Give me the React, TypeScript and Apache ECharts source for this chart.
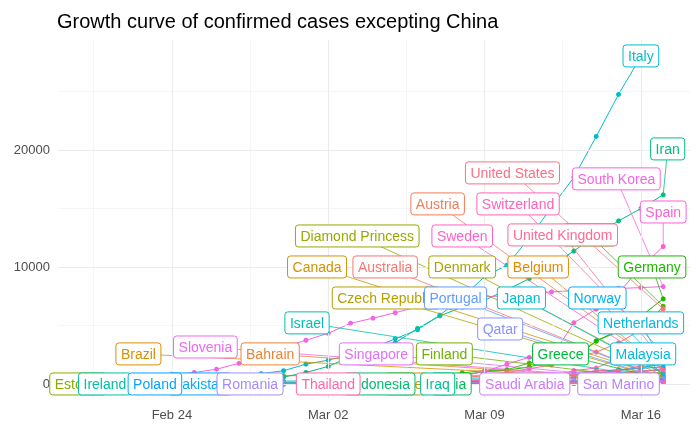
import { useEffect, useRef } from 'react';
import * as echarts from 'echarts';

// x = days after Feb 24, 2020
const countries = ['Australia', 'Austria', 'Bahrain', 'Belgium', 'Brazil', 'Canada', 'Chile', 'Czech Republic', 'Denmark', 'Diamond Princess', 'Estonia', 'Finland', 'France', 'Germany', 'Greece', 'India', 'Indonesia', 'Iran', 'Iraq', 'Ireland', 'Israel', 'Italy', 'Japan', 'Malaysia', 'Netherlands', 'Norway', 'Pakistan', 'Poland', 'Portugal', 'Qatar', 'Romania', 'San Marino', 'Saudi Arabia', 'Singapore', 'Slovenia', 'South Korea', 'Spain', 'Sweden', 'Switzerland', 'Thailand', 'United Kingdom', 'United States'];

const startDay: Record<string, number> = {
  Australia: -4, Austria: 7, Bahrain: 1, Belgium: 6, Brazil: 2, Canada: -4, Chile: 8, 'Czech Republic': 6, Denmark: 6,
  'Diamond Princess': -4, Estonia: 7, Finland: 2, France: 8, Germany: 7, Greece: 2, India: 0, Indonesia: 7, Iran: -5,
  Iraq: 2, Ireland: 6, Israel: 1, Italy: -2, Japan: -4, Malaysia: -4, Netherlands: 6, Norway: 6, Pakistan: 1, Poland: 9,
  Portugal: 7, Qatar: 5, Romania: 2, 'San Marino': 4, 'Saudi Arabia': 7, Singapore: -2, Slovenia: 10, 'South Korea': -4,
  Spain: 6, Sweden: 6, Switzerland: 7, Thailand: -3, 'United Kingdom': 6, 'United States': 7,
};

const cases: Record<string, number[]> = {
  Australia: [15, 15, 22, 22, 22, 23, 23, 23, 23, 25, 27, 30, 39, 52, 55, 60, 63, 76, 91, 107, 128, 128, 200, 250, 297, 377, 452],
  Austria: [10, 18, 29, 41, 55, 79, 104, 131, 182, 246, 302, 504, 655, 860, 1018, 1332],
  Bahrain: [23, 33, 33, 36, 41, 47, 49, 49, 52, 55, 60, 85, 85, 95, 110, 195, 195, 189, 210, 214, 214, 228],
  Belgium: [2, 8, 13, 23, 50, 109, 169, 200, 239, 267, 314, 314, 559, 689, 886, 1058, 1243],
  Brazil: [1, 1, 1, 2, 2, 2, 2, 4, 4, 13, 13, 20, 25, 31, 38, 52, 151, 151, 162, 200, 321],
  Canada: [9, 9, 10, 11, 11, 14, 19, 19, 20, 24, 27, 30, 33, 36, 46, 54, 64, 77, 79, 108, 117, 193, 198, 252, 415, 478, 569],
  Chile: [1, 1, 4, 4, 4, 8, 8, 13, 23, 23, 43, 61, 74, 155, 201],
  'Czech Republic': [3, 3, 3, 5, 8, 19, 26, 32, 38, 63, 94, 116, 141, 189, 253, 298, 396],
  Denmark: [4, 4, 6, 10, 10, 23, 23, 35, 90, 262, 442, 615, 801, 827, 864, 914, 977],
  'Diamond Princess': [634, 691, 691, 691, 705, 705, 705, 705, 705, 705, 706, 706, 706, 696, 696, 696, 696, 696, 696, 696, 696, 696, 696, 696, 696, 712, 712],
  Estonia: [1, 1, 1, 1, 2, 3, 10, 10, 10, 10, 16, 79, 115, 171, 205, 225],
  Finland: [1, 1, 1, 2, 2, 2, 3, 6, 7, 12, 15, 19, 23, 30, 40, 59, 155, 225, 244, 277, 321],
  France: [191, 204, 288, 380, 656, 957, 1134, 1217, 1792, 2290, 2290, 3672, 4480, 4513, 6650],
  Germany: [130, 159, 196, 262, 482, 670, 799, 1040, 1176, 1457, 1908, 2078, 3675, 4585, 5795, 7272],
  Greece: [1, 3, 4, 4, 7, 7, 7, 9, 31, 45, 46, 73, 73, 89, 99, 99, 190, 228, 331, 331, 387],
  India: [3, 3, 3, 3, 3, 3, 3, 5, 5, 28, 30, 31, 34, 39, 43, 56, 62, 73, 82, 102, 113, 119, 142],
  Indonesia: [2, 2, 2, 2, 4, 4, 6, 19, 27, 34, 34, 69, 96, 117, 134, 172],
  Iran: [2, 5, 18, 28, 43, 61, 95, 139, 245, 388, 593, 978, 1501, 2336, 2922, 3513, 4747, 5823, 6566, 7161, 8042, 9000, 10075, 11364, 12729, 13938, 14991, 16169],
  Iraq: [1, 5, 7, 7, 13, 19, 26, 32, 35, 35, 40, 54, 60, 71, 71, 71, 101, 110, 116, 124, 154],
  Ireland: [1, 1, 1, 2, 6, 13, 18, 19, 21, 34, 43, 43, 90, 129, 169, 223, 292],
  Israel: [1, 1, 1, 2, 3, 5, 7, 10, 12, 15, 21, 39, 50, 75, 75, 100, 126, 161, 200, 250, 304, 427],
  Italy: [62, 155, 229, 322, 453, 655, 888, 1128, 1694, 2036, 2502, 3089, 3858, 4636, 5883, 7375, 9172, 10149, 12462, 15113, 17660, 21157, 24747, 27980],
  Japan: [93, 105, 132, 144, 156, 164, 186, 210, 230, 239, 254, 268, 284, 317, 349, 408, 455, 488, 514, 568, 620, 675, 716, 780, 814, 829, 878],
  Malaysia: [22, 22, 22, 22, 22, 22, 22, 23, 23, 25, 29, 29, 36, 50, 50, 83, 93, 99, 117, 129, 149, 149, 197, 238, 428, 566, 673],
  Netherlands: [10, 18, 24, 38, 82, 128, 188, 265, 321, 382, 503, 503, 804, 959, 1135, 1413, 1705],
  Norway: [19, 25, 32, 56, 87, 108, 147, 176, 205, 400, 598, 702, 996, 1090, 1221, 1333, 1463],
  Pakistan: [2, 2, 2, 4, 4, 4, 5, 5, 6, 6, 6, 6, 6, 7, 16, 19, 20, 28, 31, 53, 136, 236],
  Poland: [1, 1, 5, 5, 11, 16, 22, 31, 49, 68, 103, 119, 177, 238],
  Portugal: [2, 2, 5, 8, 13, 20, 30, 30, 41, 59, 59, 112, 169, 245, 331, 448],
  Qatar: [1, 1, 3, 3, 7, 8, 8, 15, 18, 24, 24, 262, 262, 320, 337, 401, 401, 439],
  Romania: [1, 3, 3, 3, 3, 3, 4, 6, 9, 9, 15, 15, 25, 45, 49, 89, 123, 131, 158, 184, 217],
  'San Marino': [1, 1, 8, 10, 16, 21, 21, 23, 36, 36, 51, 62, 69, 80, 80, 101, 109, 109, 119],
  'Saudi Arabia': [1, 1, 1, 2, 5, 5, 11, 15, 20, 21, 45, 86, 103, 103, 118, 171],
  Singapore: [89, 89, 90, 91, 93, 93, 93, 102, 106, 108, 110, 110, 117, 130, 138, 150, 150, 160, 178, 178, 200, 212, 226, 243, 266],
  Slovenia: [1, 6, 8, 12, 16, 31, 57, 89, 141, 181, 219, 253, 275],
  'South Korea': [104, 204, 433, 602, 833, 977, 1261, 1766, 2337, 3150, 3736, 4335, 5186, 5621, 6088, 6593, 7041, 7314, 7478, 7513, 7755, 7869, 7979, 8086, 8162, 8236, 8320],
  Spain: [84, 120, 165, 222, 259, 400, 500, 673, 1073, 1695, 2277, 2277, 5232, 6391, 7798, 9942, 11748],
  Sweden: [14, 15, 21, 35, 94, 101, 161, 203, 248, 355, 500, 599, 814, 961, 1022, 1103, 1190],
  Switzerland: [42, 56, 90, 114, 214, 268, 337, 374, 491, 652, 652, 1139, 1359, 2200, 2200, 2700],
  Thailand: [35, 35, 35, 35, 37, 40, 40, 41, 42, 42, 43, 43, 43, 47, 48, 50, 50, 50, 53, 59, 70, 75, 82, 114, 147, 177],
  'United Kingdom': [36, 40, 51, 86, 116, 164, 209, 278, 321, 382, 456, 459, 802, 1144, 1145, 1551, 1960],
  'United States': [100, 124, 158, 221, 319, 435, 541, 704, 994, 1301, 1630, 2183, 2726, 3499, 4632, 6421],
};

// repelled label positions: [day, cases]
const labelAt: Record<string, [number, number]> = {
  Italy: [21, 28040], Iran: [22.2, 20090], 'United States': [15.25, 18040], 'South Korea': [19.9, 17530], Spain: [22, 14700],
  Austria: [11.9, 15390], Switzerland: [15.5, 15390], 'Diamond Princess': [8.3, 12650], Sweden: [13, 12650],
  'United Kingdom': [17.5, 12740], France: [18.7, 12740], Canada: [6.5, 10000], Australia: [9.55, 10000], Denmark: [13, 10000],
  Belgium: [16.4, 10000], Germany: [21.5, 10000], 'Czech Republic': [9.6, 7350], Portugal: [12.7, 7350], Japan: [15.65, 7350],
  Norway: [19.05, 7350], Netherlands: [21, 5220], Qatar: [14.7, 4700], Israel: [6.05, 5220], Slovenia: [1.5, 3160],
  Brazil: [-1.5, 2570], Bahrain: [4.4, 2570], Singapore: [9.15, 2570], Finland: [12.2, 2570], Greece: [17.4, 2570],
  Malaysia: [21.1, 2570], Estonia: [-4.2, 0], Ireland: [-3.0, 0], Poland: [-0.76, 0], Pakistan: [1.25, 0], Romania: [3.5, 0],
  Thailand: [7, 0], Indonesia: [9.3, 0], Chile: [10.5, 0], Iraq: [11.9, 0], India: [12.5, 0], 'Saudi Arabia': [15.8, 0],
  'San Marino': [20, 0],
};

const dateTicks = [0, 7, 14, 21];
const dateTickLabels: Record<number, string> = { 0: 'Feb 24', 7: 'Mar 02', 14: 'Mar 09', 21: 'Mar 16' };
const caseTicks = [0, 10000, 20000];

// ggplot2 default hue palette (hcl, c=100, l=65)
function hue(h: number) {
  const L = 65, C = 100;
  const u = C * Math.cos((h * Math.PI) / 180), v = C * Math.sin((h * Math.PI) / 180);
  const Y = Math.pow((L + 16) / 116, 3);
  const un = 0.19784, vn = 0.46834;
  const up = u / (13 * L) + un, vp = v / (13 * L) + vn;
  const X = (Y * 9 * up) / (4 * vp);
  const Z = (Y * (12 - 3 * up - 20 * vp)) / (4 * vp);
  const lin = [3.2406 * X - 1.5372 * Y - 0.4986 * Z, -0.9689 * X + 1.8758 * Y + 0.0415 * Z, 0.0557 * X - 0.204 * Y + 1.057 * Z];
  const c = lin.map(x => {
    const g = x <= 0.0031308 ? 12.92 * x : 1.055 * Math.pow(x, 1 / 2.4) - 0.055;
    return Math.round(Math.max(0, Math.min(1, g)) * 255);
  });
  return `rgb(${c[0]},${c[1]},${c[2]})`;
}
const colors = countries.map((_, i) => hue(15 + (360 * i) / countries.length));

const FONT = '"Liberation Sans", Arial, sans-serif';

export default function App() {
  const chartRef = useRef<HTMLDivElement>(null);

  useEffect(() => {
    if (!chartRef.current) return;
    const chart = echarts.init(chartRef.current, null, { renderer: 'svg' });
    const ctx = document.createElement('canvas').getContext('2d')!;
    ctx.font = `14px ${FONT}`;

    const lineSeries = countries.map((c, i) => ({
      type: 'line',
      name: c,
      data: cases[c].map((v, k) => [startDay[c] + k, v]),
      symbol: 'circle',
      symbolSize: 5,
      showSymbol: true,
      lineStyle: { width: 1, color: colors[i] },
      itemStyle: { color: colors[i] },
      z: 3,
    }));

    const labelData = countries.map((c, i) => {
      const vals = cases[c];
      return [labelAt[c][0], labelAt[c][1], startDay[c] + vals.length - 1, vals[vals.length - 1], i];
    });

    const segmentSeries = {
      type: 'custom',
      data: labelData,
      clip: false,
      z: 4,
      renderItem: (_: any, api: any) => {
        const a = api.coord([api.value(0), api.value(1)]);
        const b = api.coord([api.value(2), api.value(3)]);
        return {
          type: 'line',
          shape: { x1: a[0], y1: a[1], x2: b[0], y2: b[1] },
          style: { stroke: colors[api.value(4)], lineWidth: 0.8 },
        };
      },
    };

    const boxSeries = {
      type: 'custom',
      data: labelData,
      clip: false,
      z: 5,
      renderItem: (_: any, api: any) => {
        const i = api.value(4);
        const name = countries[i];
        const p = api.coord([api.value(0), api.value(1)]);
        const w = ctx.measureText(name).width + 10;
        const h = 22;
        return {
          type: 'group',
          children: [
            {
              type: 'rect',
              shape: { x: p[0] - w / 2, y: p[1] - h / 2, width: w, height: h, r: 3 },
              style: { fill: '#fff', stroke: colors[i], lineWidth: 1 },
            },
            {
              type: 'text',
              x: p[0],
              y: p[1],
              style: { text: name, fill: colors[i], font: `14px ${FONT}`, align: 'center', verticalAlign: 'middle' },
            },
          ],
        };
      },
    };

    const gridLines = {
      type: 'line',
      data: [],
      silent: true,
      z: 1,
      markLine: {
        silent: true,
        symbol: 'none',
        label: { show: false },
        data: [
          ...[-3.5, 3.5, 10.5, 17.5].map(x => ({ xAxis: x, lineStyle: { color: '#f0f0f0', width: 0.6, type: 'solid' } })),
          ...dateTicks.map(x => ({ xAxis: x, lineStyle: { color: '#ebebeb', width: 1.1, type: 'solid' } })),
          ...[5000, 15000, 25000].map(y => ({ yAxis: y, lineStyle: { color: '#f0f0f0', width: 0.6, type: 'solid' } })),
          ...caseTicks.map(y => ({ yAxis: y, lineStyle: { color: '#ebebeb', width: 1.1, type: 'solid' } })),
        ],
      },
    };

    chart.setOption({
      animation: false,
      title: {
        text: 'Growth curve of confirmed cases excepting China',
        left: 52,
        top: 6,
        textStyle: { fontFamily: FONT, fontSize: 20, fontWeight: 'normal', color: '#000' },
      },
      grid: { left: 58, right: 10, top: 40, bottom: 34 },
      xAxis: {
        type: 'value',
        min: -5.1,
        max: 23.2,
        axisLine: { show: false },
        axisTick: { show: false },
        splitLine: { show: false },
        axisLabel: {
          customValues: dateTicks,
          formatter: (v: number) => dateTickLabels[v] ?? '',
          color: '#4d4d4d',
          fontFamily: FONT,
          fontSize: 13,
          margin: 10,
        },
      },
      yAxis: {
        type: 'value',
        min: -1200,
        max: 29400,
        axisLine: { show: false },
        axisTick: { show: false },
        splitLine: { show: false },
        axisLabel: {
          customValues: caseTicks,
          formatter: (v: number) => String(v),
          color: '#4d4d4d',
          fontFamily: FONT,
          fontSize: 13,
          margin: 8,
        },
      },
      series: [gridLines, ...lineSeries, segmentSeries, boxSeries],
    });

    return () => chart.dispose();
  }, []);

  return <div ref={chartRef} style={{ position: 'fixed', left: 0, top: 0, width: 700, height: 432 }} />;
}
